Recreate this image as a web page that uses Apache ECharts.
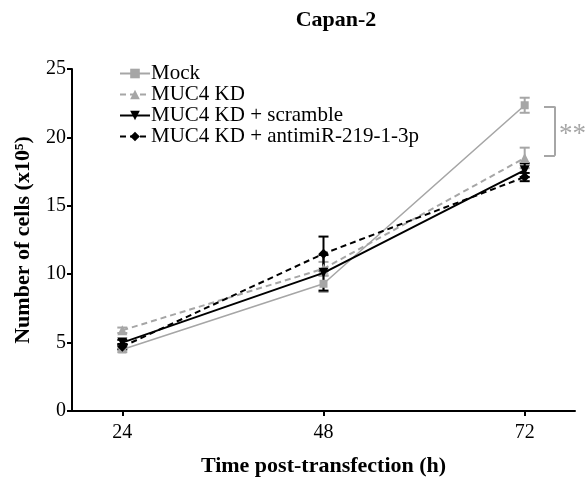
<!DOCTYPE html>
<html><head><meta charset="utf-8">
<script src="https://cdn.jsdelivr.net/npm/echarts@6/dist/echarts.min.js"></script>
<style>html,body{margin:0;padding:0;background:#fff}#c{width:588px;height:477px}</style>
</head><body><div id="c"></div>
<script>
var hours = [24, 48, 72];
var seriesNames = ['Mock', 'MUC4 KD', 'MUC4 KD + scramble', 'MUC4 KD + antimiR-219-1-3p'];
var mockVals = [4.5, 9.3, 22.35];
var mockErr = [0.2, 0.6, 0.55];
var kdVals = [5.9, 10.4, 18.5];
var kdErr = [0.2, 0.5, 0.75];
var scrVals = [5.0, 10.1, 17.6];
var scrErr = [0.2, 1.3, 0.5];
var antiVals = [4.7, 11.5, 17.1];
var antiErr = [0.2, 1.25, 0.3];

var GRAY = '#a6a6a6', BLACK = '#000';
var FONT = '"Liberation Serif","DejaVu Serif",serif';

function pts(v){ return hours.map(function(h,i){ return [h, v[i]]; }); }
function errData(v,e){ return hours.map(function(h,i){ return [h, v[i]-e[i], v[i]+e[i]]; }); }
function errSeries(v,e,color){
  return {
    type:'custom', silent:true, z:1, legendHoverLink:false,
    data: errData(v,e),
    renderItem: function(params, api){
      var x = api.value(0);
      var lo = api.coord([x, api.value(1)]);
      var hi = api.coord([x, api.value(2)]);
      var w = 5;
      return {type:'group', children:[
        {type:'line', shape:{x1:lo[0],y1:lo[1],x2:hi[0],y2:hi[1]}, style:{stroke:color,lineWidth:2}},
        {type:'line', shape:{x1:lo[0]-w,y1:lo[1],x2:lo[0]+w,y2:lo[1]}, style:{stroke:color,lineWidth:2}},
        {type:'line', shape:{x1:hi[0]-w,y1:hi[1],x2:hi[0]+w,y2:hi[1]}, style:{stroke:color,lineWidth:2}}
      ]};
    }
  };
}

var chart = echarts.init(document.getElementById('c'), null, {renderer:'canvas'});
chart.setOption({
  animation:false,
  backgroundColor:'#fff',
  title:{text:'Capan-2', left:331, top:4, textAlign:'center',
    textStyle:{fontFamily:FONT, fontWeight:'bold', fontSize:22, color:'#000'}},
  grid:{left:72, right:13, top:69, bottom:66, containLabel:false, outerBoundsMode:'none'},
  legend:{
    orient:'vertical', left:114, top:58, itemGap:0, itemWidth:30, itemHeight:12,
    data: seriesNames,
    textStyle:{fontFamily:FONT, fontSize:21, color:'#000', lineHeight:20, padding:[0,0,0,-4]}
  },
  xAxis:{
    type:'value', min:18, max:78,
    name:'Time post-transfection (h)', nameLocation:'middle', nameGap:44,
    nameTextStyle:{fontFamily:FONT, fontWeight:'bold', fontSize:22, color:'#000'},
    axisLine:{show:true, onZero:false, lineStyle:{color:'#000', width:2}},
    axisTick:{show:true, customValues:hours, length:5, lineStyle:{color:'#000', width:2}},
    axisLabel:{customValues:hours, fontFamily:FONT, fontSize:20, color:'#000', margin:12},
    splitLine:{show:false}
  },
  yAxis:{
    type:'value', min:0, max:25, interval:5,
    name:'Number of cells (x10⁵)', nameLocation:'middle', nameGap:38,
    nameTextStyle:{fontFamily:FONT, fontWeight:'bold', fontSize:22, color:'#000'},
    axisLine:{show:true, lineStyle:{color:'#000', width:2}},
    axisTick:{show:true, length:5, lineStyle:{color:'#000', width:2}},
    axisLabel:{fontFamily:FONT, fontSize:20, color:'#000', margin:6},
    splitLine:{show:false}
  },
  series:[
    errSeries(mockVals, mockErr, GRAY),
    errSeries(kdVals, kdErr, GRAY),
    errSeries(scrVals, scrErr, BLACK),
    errSeries(antiVals, antiErr, BLACK),
    {name:seriesNames[0], type:'line', data:pts(mockVals), symbol:'rect', symbolSize:8, z:3,
      lineStyle:{color:GRAY, width:1.6}, itemStyle:{color:GRAY},
      markLine:{silent:true, symbol:'none', label:{show:false},
        lineStyle:{color:GRAY, width:2, type:'solid'},
        data:[
          [{coord:[74.3,22.25]},{coord:[75.6,22.25]}],
          [{coord:[75.6,22.25]},{coord:[75.6,18.65]}],
          [{coord:[75.6,18.65]},{coord:[74.3,18.65]}]
        ]},
      markPoint:{silent:true, symbol:'rect', symbolSize:1, itemStyle:{opacity:0},
        data:[{coord:[77.7,20.2]}],
        label:{show:true, position:'inside', formatter:'**', color:GRAY, fontFamily:FONT, fontSize:27, opacity:1}}
    },
    {name:seriesNames[1], type:'line', data:pts(kdVals), symbol:'triangle', symbolSize:10, z:3,
      lineStyle:{color:GRAY, width:2, type:[6,4]}, itemStyle:{color:GRAY}},
    {name:seriesNames[2], type:'line', data:pts(scrVals), symbol:'triangle', symbolRotate:180, symbolSize:10, z:4,
      lineStyle:{color:BLACK, width:2}, itemStyle:{color:BLACK}},
    {name:seriesNames[3], type:'line', data:pts(antiVals), symbol:'diamond', symbolSize:10, z:4,
      lineStyle:{color:BLACK, width:2, type:[6,4]}, itemStyle:{color:BLACK}}
  ]
});
</script></body></html>
